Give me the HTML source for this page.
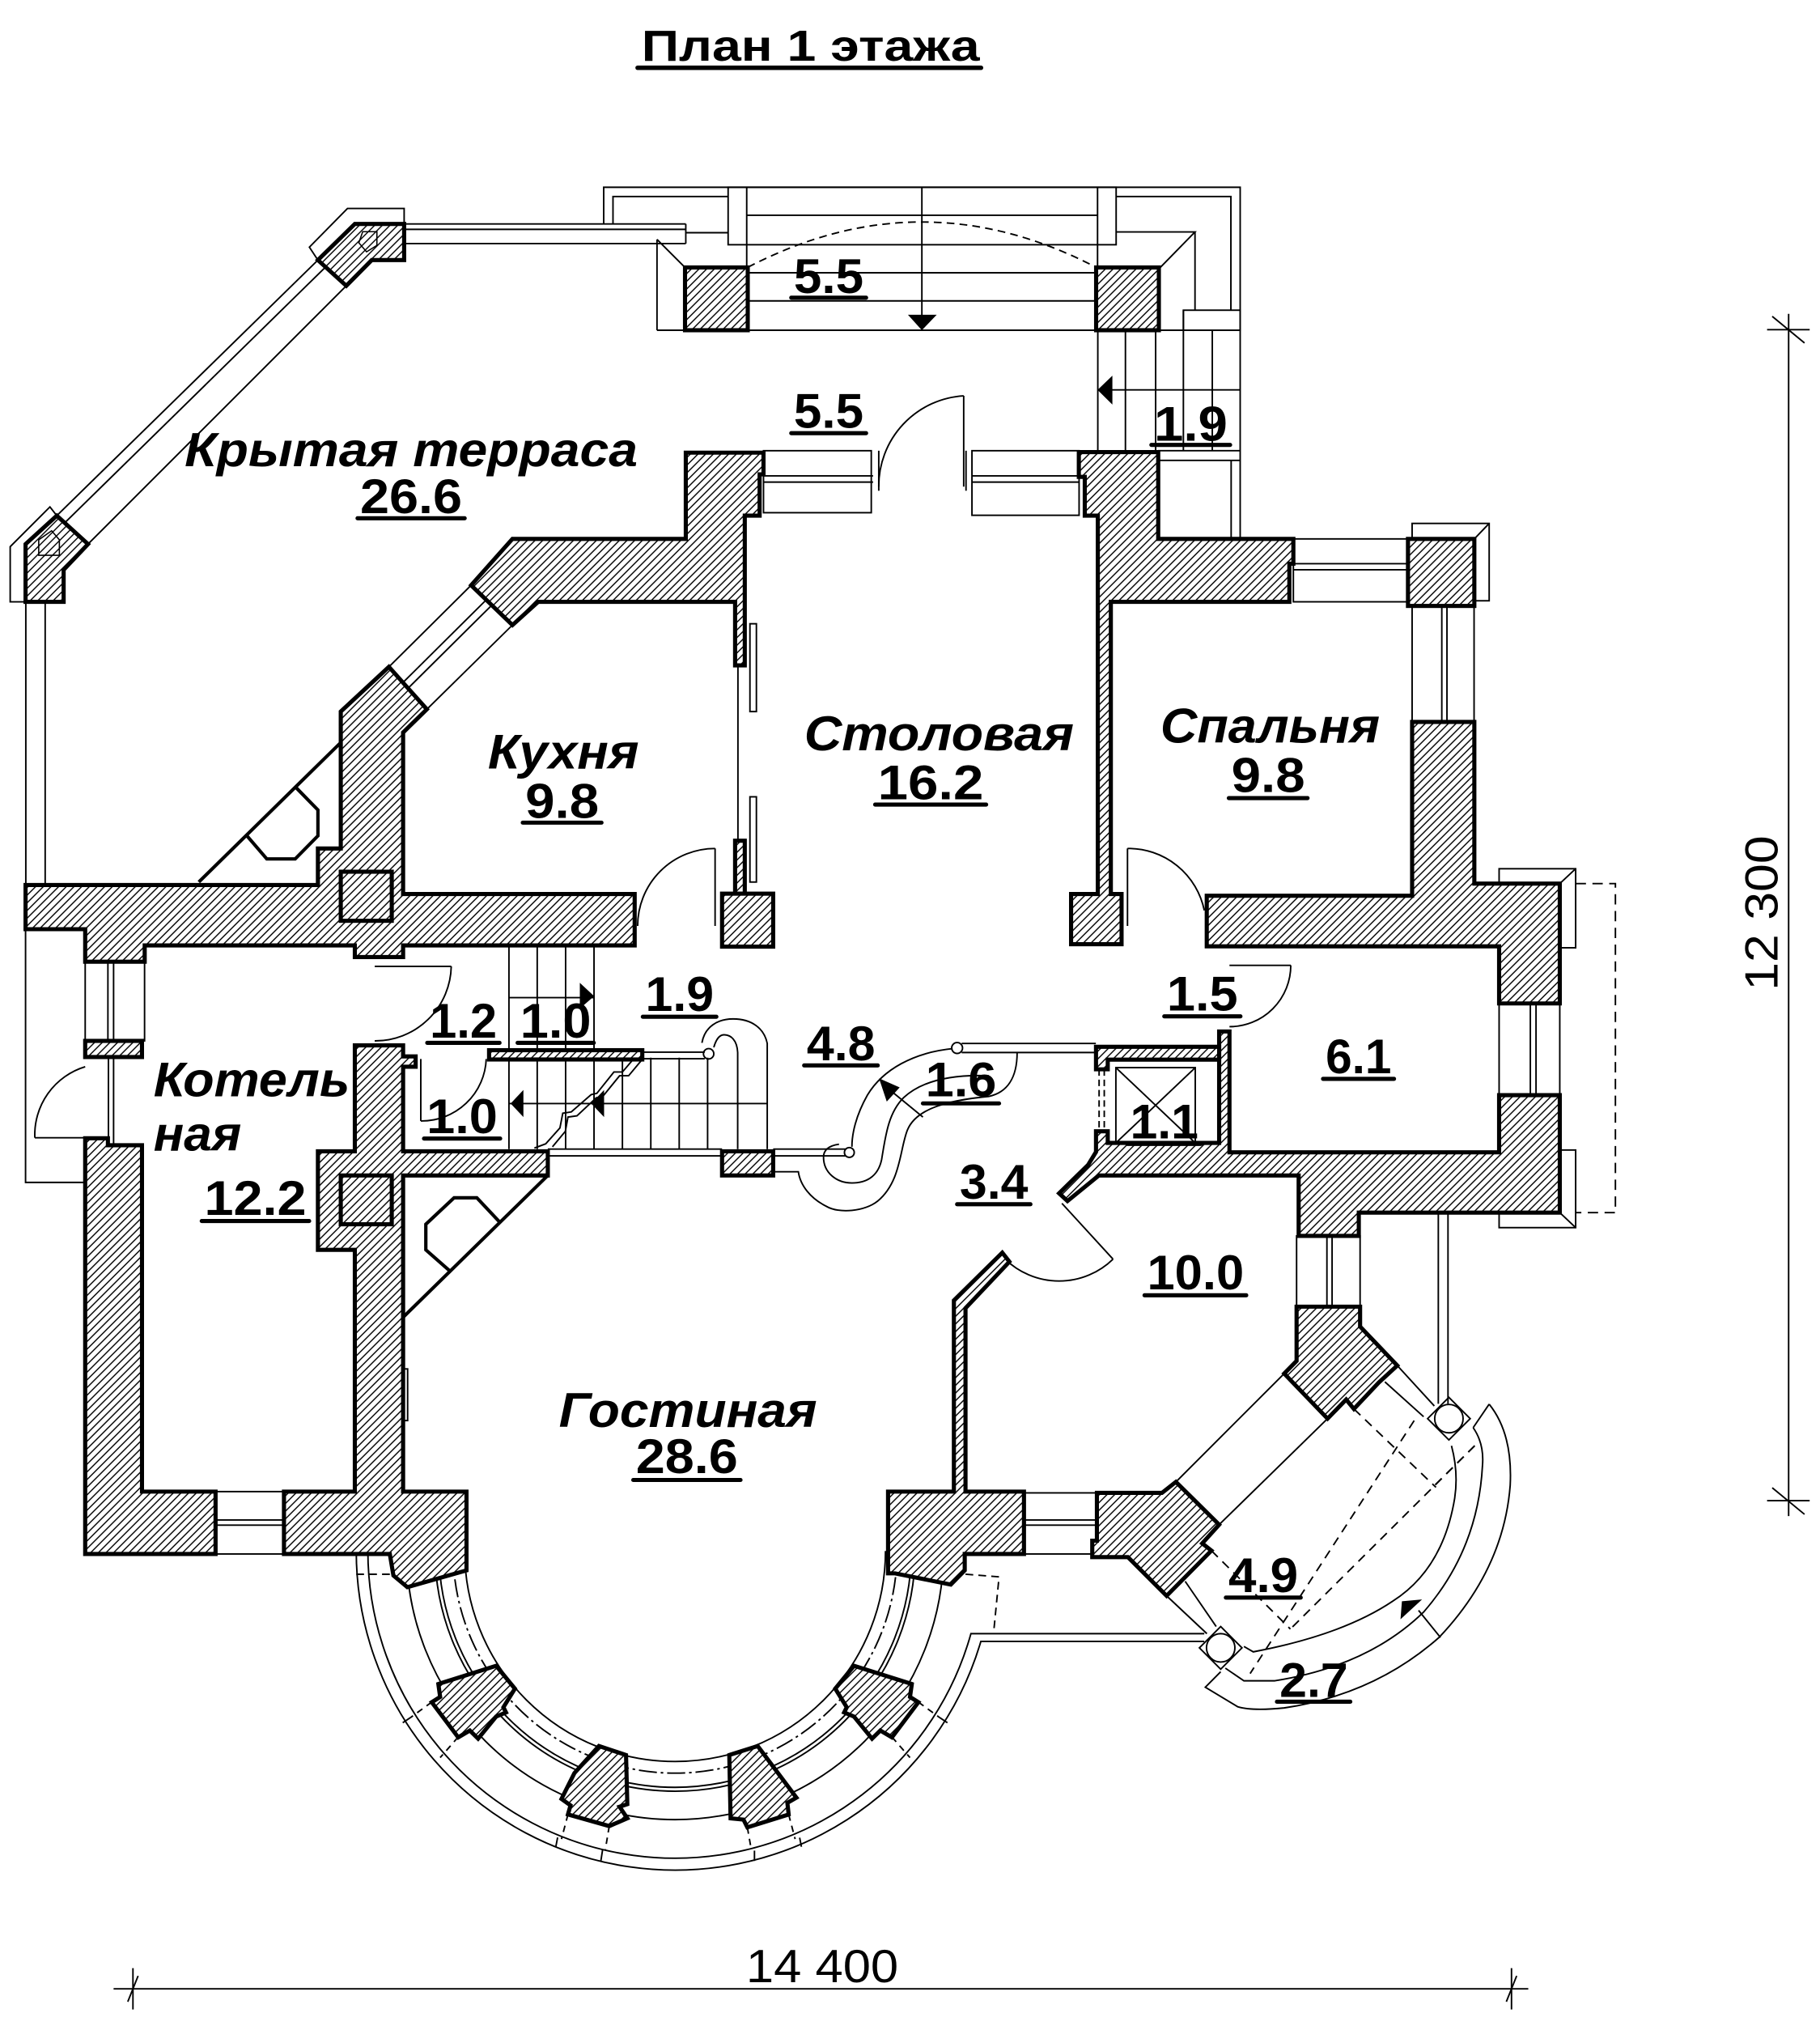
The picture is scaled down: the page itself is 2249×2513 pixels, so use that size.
<!DOCTYPE html>
<html><head><meta charset="utf-8"><style>
html,body{margin:0;padding:0;background:#fff;}
svg{display:block;}
text{font-family:"Liberation Sans","DejaVu Sans",sans-serif;font-weight:bold;fill:#000;}
.n{font-style:italic;}
</style></head><body>
<svg width="2249" height="2513" viewBox="0 0 1410 1575" preserveAspectRatio="none" xmlns="http://www.w3.org/2000/svg">
<defs>
<pattern id="h" width="4.2" height="4.2" patternUnits="userSpaceOnUse" patternTransform="rotate(45)">
<rect width="4.2" height="4.2" fill="#fff"/>
<line x1="1" y1="0" x2="1" y2="4.2" stroke="#000" stroke-width="0.9"/>
</pattern>
</defs>
<rect width="1410" height="1575" fill="#fff"/>

<!-- THIN LINES -->
<g fill="none" stroke="#000" stroke-width="1.2">
<!-- porch -->
<polyline points="467.7,173 467.7,145 960.8,145 960.8,417.3"/>
<polyline points="474.9,173 474.9,152.2 564.1,152.2"/>
<polyline points="864.7,152.2 953.6,152.2 953.6,240.2"/>
<rect x="564.1" y="145" width="300.6" height="44.5"/>
<line x1="578.5" y1="145" x2="578.5" y2="207"/>
<line x1="850.3" y1="145" x2="850.3" y2="207"/>
<line x1="578.5" y1="166.7" x2="850.3" y2="166.7"/>
<line x1="531.7" y1="180.2" x2="564.1" y2="180.2"/>
<line x1="509" y1="185.4" x2="530.7" y2="207.1"/>
<line x1="509" y1="185.4" x2="509" y2="255.7"/>
<line x1="509" y1="255.7" x2="960.8" y2="255.7"/>
<polyline points="864.7,179.6 925.8,179.6 898.9,207.1"/>
<line x1="925.8" y1="179.6" x2="925.8" y2="240.2"/>
<line x1="579.3" y1="211.2" x2="849.2" y2="211.2"/>
<line x1="579.3" y1="233" x2="849.2" y2="233"/>
<line x1="714.2" y1="145" x2="714.2" y2="245"/>
<path d="M579.3,207 Q714.2,136.8 849.2,207" stroke-dasharray="6,4"/>
<!-- right stair -->
<rect x="916.8" y="240.2" width="44" height="15.5"/>
<line x1="850.5" y1="255.7" x2="850.5" y2="350"/>
<line x1="871.9" y1="255.7" x2="871.9" y2="349"/>
<line x1="895.3" y1="255.7" x2="895.3" y2="349"/>
<line x1="916.8" y1="240.2" x2="916.8" y2="349"/>
<line x1="939.2" y1="255.7" x2="939.2" y2="349"/>
<line x1="850.5" y1="301.9" x2="960.8" y2="301.9"/>
<line x1="897" y1="349" x2="960.8" y2="349"/>
<line x1="897" y1="356.5" x2="960.8" y2="356.5"/>
<line x1="953.8" y1="356.5" x2="953.8" y2="417.3"/>
<!-- terrace railing -->
<line x1="313.1" y1="173.4" x2="531.3" y2="173.4"/>
<line x1="313.1" y1="177.6" x2="531.3" y2="177.6"/>
<line x1="313.1" y1="188.6" x2="531.3" y2="188.6"/>
<line x1="531.3" y1="173.4" x2="531.3" y2="188.6"/>
<polyline points="246.3,201.4 239.7,191.4 269.2,161.4 313.1,161.4 313.1,173.4"/>
<line x1="246.3" y1="201.4" x2="44" y2="399.3"/>
<line x1="252" y1="207" x2="50" y2="405"/>
<line x1="268.3" y1="221.3" x2="68.2" y2="421.3"/>
<polyline points="19.8,466 7.9,466 7.9,423.3 38.7,392.5 44,399.3"/>
<line x1="20" y1="466" x2="20" y2="685"/>
<line x1="35" y1="466" x2="35" y2="685"/>
<!-- kitchen diagonal window -->
<line x1="365" y1="453.2" x2="301.3" y2="516.4"/>
<line x1="397" y1="484" x2="330.7" y2="549.2"/>
<line x1="376" y1="465.2" x2="312.3" y2="528.4"/>
<line x1="380.4" y1="469.2" x2="316.7" y2="532.4"/>
<!-- kitchen/dining partition -->
<line x1="571.7" y1="515" x2="571.7" y2="651"/>
<rect x="581" y="483" width="5" height="68" fill="#fff"/>
<rect x="581" y="617" width="5" height="66" fill="#fff"/>
<!-- dining windows -->
<rect x="591.5" y="349" width="83.5" height="48"/>
<line x1="591.5" y1="368.5" x2="676.4" y2="368.5"/>
<line x1="591.5" y1="373.3" x2="676.4" y2="373.3"/>
<line x1="680.8" y1="349" x2="680.8" y2="380"/>
<rect x="753" y="349" width="83" height="50"/>
<line x1="748.4" y1="349" x2="748.4" y2="380"/>
<line x1="752.7" y1="368.5" x2="836" y2="368.5"/>
<line x1="752.7" y1="373.3" x2="836" y2="373.3"/>
<!-- doors -->
<line x1="746.6" y1="306.5" x2="746.6" y2="376.8"/>
<path d="M746.6,306.5 A70,70 0 0 0 680.8,376.8"/>
<line x1="554" y1="657" x2="554" y2="717"/>
<path d="M554,657 A60,60 0 0 0 494,717"/>
<line x1="873.5" y1="657" x2="873.5" y2="717"/>
<path d="M873.5,657 A60,60 0 0 1 933,705"/>
<line x1="952.5" y1="747.5" x2="1000" y2="747.5"/>
<path d="M1000,747.5 A47.5,47.5 0 0 1 952.5,795"/>
<line x1="290.3" y1="748.3" x2="349.6" y2="748.3"/>
<path d="M349.6,748.3 A59,59 0 0 1 290.3,806"/>
<line x1="326" y1="820" x2="326" y2="868"/>
<path d="M376.7,820 A50,50 0 0 1 326,868"/>
<line x1="822.7" y1="931.8" x2="862.3" y2="975"/>
<path d="M862.3,975 A60,60 0 0 1 778.7,975"/>
<path d="M66,826 A55,55 0 0 0 27,881"/>
<line x1="27" y1="881" x2="66" y2="881"/>
<!-- bedroom windows -->
<rect x="1002" y="417.3" width="88.8" height="48.7"/>
<line x1="1002" y1="436.5" x2="1090.8" y2="436.5"/>
<line x1="1002" y1="441.2" x2="1090.8" y2="441.2"/>
<rect x="1094" y="405.3" width="59.7" height="59.9"/>
<line x1="1142.2" y1="417.3" x2="1153.7" y2="405.3"/>
<rect x="1094" y="466" width="48" height="93"/>
<line x1="1117" y1="466" x2="1117" y2="559"/>
<line x1="1121" y1="466" x2="1121" y2="559"/>
<!-- 6.1 right -->
<rect x="1161.4" y="777" width="47" height="71"/>
<line x1="1185.6" y1="777" x2="1185.6" y2="848"/>
<line x1="1190" y1="777" x2="1190" y2="848"/>
<rect x="1161.4" y="672.7" width="59.3" height="61.2"/>
<line x1="1208.4" y1="684.2" x2="1220.7" y2="672.7"/>
<rect x="1161.4" y="890.5" width="59.3" height="60.1"/>
<line x1="1208.4" y1="939" x2="1220.7" y2="950.6"/>
<polyline points="1220.7,684.2 1251.5,684.2 1251.5,939 1220.7,939" stroke-dasharray="8,5"/>
<!-- lower right window and posts -->
<rect x="1004.5" y="957" width="49.2" height="54.8"/>
<line x1="1028" y1="957" x2="1028" y2="1011.8"/>
<line x1="1032" y1="957" x2="1032" y2="1011.8"/>
<line x1="1114.3" y1="940" x2="1114.3" y2="1087"/>
<line x1="1121.8" y1="940" x2="1121.8" y2="1087"/>
<!-- lift -->
<line x1="851.5" y1="828" x2="851.5" y2="876" stroke-dasharray="5,3"/>
<line x1="855.5" y1="828" x2="855.5" y2="876" stroke-dasharray="5,3"/>
<rect x="864.5" y="826.7" width="61.5" height="58.3"/>
<line x1="864.5" y1="826.7" x2="926" y2="885"/>
<line x1="926" y1="826.7" x2="864.5" y2="885"/>
<!-- kotelnaya windows -->
<rect x="66" y="744.7" width="46" height="61.3"/>
<line x1="83.6" y1="744.7" x2="83.6" y2="806"/>
<line x1="88" y1="744.7" x2="88" y2="806"/>
<line x1="84" y1="818.5" x2="84" y2="886.8"/>
<line x1="88" y1="818.5" x2="88" y2="886.8"/>
<polyline points="19.8,719.5 19.8,915.6 66,915.6"/>
<rect x="167" y="1155" width="53" height="48.3"/>
<line x1="167" y1="1177" x2="220" y2="1177"/>
<line x1="167" y1="1181" x2="220" y2="1181"/>
<rect x="793.3" y="1156" width="56.5" height="47.3"/>
<line x1="793.3" y1="1177" x2="849.8" y2="1177"/>
<line x1="793.3" y1="1181" x2="849.8" y2="1181"/>
<rect x="312.3" y="1060" width="3.5" height="40"/>
<!-- stairs -->
<line x1="394.3" y1="733" x2="394.3" y2="889.8"/>
<line x1="416.2" y1="733" x2="416.2" y2="889.8"/>
<line x1="438.2" y1="733" x2="438.2" y2="889.8"/>
<line x1="460.2" y1="733" x2="460.2" y2="889.8"/>
<line x1="482.2" y1="819" x2="482.2" y2="889.8"/>
<line x1="504.2" y1="819" x2="504.2" y2="889.8"/>
<line x1="526.2" y1="819" x2="526.2" y2="889.8"/>
<line x1="548.2" y1="819" x2="548.2" y2="889.8"/>
<line x1="394.3" y1="772.5" x2="460.2" y2="772.5"/>
<line x1="394.3" y1="854.5" x2="594.4" y2="854.5"/>
<polyline points="491,819.8 482.2,830.1 475.6,830.1 462.4,846.6 458,847.6 442.6,861 436,862 433.8,873.4 422.8,885.7 414,889"/>
<polyline points="497,821 487,833 480,833 467,849 462,850 447,864 440,865 438,876 428,888"/>
<line x1="424.4" y1="889.8" x2="559.4" y2="889.8"/>
<line x1="424.4" y1="895" x2="559.4" y2="895"/>
<line x1="497.6" y1="814.7" x2="546" y2="814.7"/>
<line x1="497.6" y1="819.8" x2="546" y2="819.8"/>
<circle cx="549" cy="816" r="4"/>
<path d="M543.8,807.5 C546,795 556,789 568,789 C582,789 592,796 594.4,808 L594.4,889.8"/>
<path d="M553,811 C555,804 558,801 561.4,801.3 C566,801.5 571,805 571.5,815 L571.5,889.8"/>
<!-- spiral -->
<line x1="599" y1="889.8" x2="655" y2="889.8"/>
<line x1="599" y1="895" x2="655" y2="895"/>
<circle cx="658" cy="892.4" r="3.8"/>
<line x1="745" y1="808" x2="849" y2="808"/>
<line x1="745" y1="815" x2="849" y2="815"/>
<circle cx="741.5" cy="811.5" r="4.2"/>
<path d="M738,812 C708,815 684,828 672,848 C663,864 660,878 660,888"/>
<path d="M766,833 C740,832 715,836 700,850 C688,862 686,880 683,898 C680,912 670,916 660,916 C648,916 638,908 638,896 C638,890 643,887 650,886"/>
<path d="M788,815 C788,835 780,846 766,849 C735,852 710,858 703,875 C697,890 698,915 680,930 C670,938 650,940 640,934 C628,928 620,918 618.5,907.3 L598.8,907.3"/>
<line x1="715" y1="865" x2="687" y2="842"/>
<!-- bay arcs -->
<path d="M360,1201 A163,163 0 0 0 686,1201"/>
<path d="M351,1201 A172,172 0 0 0 695,1201" stroke-dasharray="14,3,2,3"/>
<path d="M340,1201 A183,183 0 0 0 706,1201"/>
<path d="M337,1201 A186,186 0 0 0 709,1201"/>
<path d="M315,1201 A208,208 0 0 0 731,1201"/>
<path d="M285,1201 A238,238 0 0 0 752.2,1265 L933,1265"/>
<path d="M276,1201 A247,247 0 0 0 759.9,1271 L933,1271"/>
<polyline points="748,1219 774,1221 770,1262" stroke-dasharray="6,4"/>
<line x1="276" y1="1219" x2="302" y2="1219" stroke-dasharray="6,4"/>
<g stroke-dasharray="5,4">
<line x1="334.5" y1="1318" x2="318" y2="1330"/>
<line x1="355" y1="1345" x2="341" y2="1361"/>
<line x1="440" y1="1405" x2="435" y2="1424"/>
<line x1="472" y1="1414" x2="469" y2="1432"/>
<line x1="579" y1="1415" x2="582" y2="1432"/>
<line x1="611" y1="1405" x2="616" y2="1424"/>
<line x1="691" y1="1345" x2="705" y2="1361"/>
<line x1="711.5" y1="1318" x2="728" y2="1330"/>
</g>
<line x1="432" y1="1422.8" x2="430.6" y2="1430"/>
<line x1="466.9" y1="1432" x2="465.5" y2="1441"/>
<line x1="584.5" y1="1433" x2="584.5" y2="1441"/>
<line x1="619.5" y1="1423" x2="620.9" y2="1430"/>
<line x1="318" y1="1330" x2="312" y2="1334"/>
<line x1="728" y1="1330" x2="734" y2="1334"/>
<!-- balcony -->
<line x1="911" y1="1147.5" x2="994.9" y2="1063.6"/>
<line x1="944.5" y1="1180.6" x2="1028.5" y2="1098.5"/>
<line x1="1082.5" y1="1057.4" x2="1111.2" y2="1088.7"/>
<line x1="1072.9" y1="1070" x2="1102.9" y2="1097"/>
<line x1="903.8" y1="1235.7" x2="935" y2="1265"/>
<line x1="918.2" y1="1224.5" x2="942.2" y2="1259.5"/>
<polygon points="1122.5,1082 1139,1098.5 1122.5,1115 1106,1098.5"/>
<circle cx="1122.5" cy="1098.5" r="11"/>
<polygon points="945.7,1259.5 962.2,1276 945.7,1292.5 929.2,1276"/>
<circle cx="945.7" cy="1276" r="11"/>
<path d="M1124.5,1119.5 Q1130,1140 1127,1160 Q1118,1215 1078.9,1239.9 Q1040,1266 970.9,1279.1 L963.7,1274.9"/>
<path d="M1141.3,1105.5 Q1150,1118 1148.5,1135 Q1145,1200 1102.9,1248.3 Q1060,1290 987.7,1301.5 L963.7,1301.5 L949.3,1291.7"/>
<path d="M1153.7,1087.3 Q1172,1110 1170,1150 Q1165,1215 1114.9,1267.9 Q1065,1312 994.9,1322.5 Q970,1325 958.9,1321.6 L933.8,1306.5 L945.7,1294.5"/>
<line x1="1153.7" y1="1087.3" x2="1141.3" y2="1105.5"/>
<line x1="1116" y1="1268" x2="1099" y2="1247"/>
<g stroke-dasharray="7,5">
<line x1="1048.9" y1="1091" x2="1112.5" y2="1151.7"/>
<line x1="1095.6" y1="1100" x2="968.5" y2="1295.9"/>
<line x1="1142.5" y1="1119.5" x2="999.7" y2="1261.4"/>
<line x1="938.5" y1="1200.7" x2="999.7" y2="1261.4"/>
<line x1="1142.5" y1="1119.5" x2="1111.3" y2="1150.3"/>
</g>
<!-- dimensions -->
<line x1="1385.7" y1="243" x2="1385.7" y2="1174"/>
<line x1="1369" y1="255.3" x2="1402" y2="255.3"/>
<line x1="1373" y1="245" x2="1398" y2="265.6"/>
<line x1="1369" y1="1162" x2="1402" y2="1162"/>
<line x1="1373" y1="1152" x2="1398" y2="1172.6"/>
<line x1="88" y1="1540" x2="1184" y2="1540"/>
<line x1="103" y1="1524" x2="103" y2="1556"/>
<line x1="99" y1="1550" x2="107" y2="1530"/>
<line x1="1171" y1="1524" x2="1171" y2="1556"/>
<line x1="1167" y1="1550" x2="1175" y2="1530"/>
</g>

<!-- thick fixture lines -->
<g fill="none" stroke="#000" stroke-width="2.6" stroke-linejoin="miter">
<line x1="154" y1="683" x2="264" y2="575"/>
<polyline points="228.7,609.2 246.3,627.2 246.3,647.2 228.7,665.1 206.7,665.1 191.3,647.2"/>
<line x1="424.4" y1="910.2" x2="312.3" y2="1020"/>
<polyline points="387,946.2 369.4,927.5 351.8,927.5 329.9,948 329.9,967.8 349.6,985.1"/>
</g>

<!-- arrows -->
<g fill="#000" stroke="none">
<polygon points="703.4,243.7 725.7,243.7 714.2,255.7"/>
<polygon points="850.3,301.9 861.8,290.9 861.8,313.3"/>
<polygon points="449.2,761 460.3,771.4 449.2,781"/>
<polygon points="395.6,854.5 405.5,844 405.5,865"/>
<polygon points="458,854.5 468,844 468,865"/>
<polygon points="681,835 697,842 687,853"/>
<polygon points="1085,1253.9 1086.1,1239.9 1101.7,1238.5"/>
</g>

<!-- WALLS -->
<g fill="url(#h)" stroke="#000" stroke-width="3.2" stroke-linejoin="miter" stroke-miterlimit="4">
<polygon points="531.3,350.5 591.5,350.5 591.5,367.3 588.5,367.3 588.5,399.3 577,399.3 577,515.2 569.5,515.2 569.5,466 417,466 397,484 365,453.2 397,417.3 531.3,417.3"/>
<polygon points="301.3,516.4 330.7,549.2 312.3,567.2 312.3,692.3 491.7,692.3 491.7,732.1 312.3,732.1 312.3,741.1 274.9,741.1 274.9,732.1 112.1,732.1 112.1,744.7 66,744.7 66,719.5 19.8,719.5 19.8,685.3 246.3,685.3 246.3,657 264,657 264,551"/>
<rect x="264" y="675" width="39.5" height="38"/>
<rect x="569.5" y="651" width="7.5" height="41"/>
<rect x="559.4" y="692" width="39.6" height="41"/>
<polygon points="835.8,350.1 897.3,350.1 897.3,417.3 1002,417.3 1002,436.5 998.9,436.5 998.9,466 860.6,466 860.6,692.3 868.9,692.3 868.9,731.1 829.8,731.1 829.8,692.3 850.5,692.3 850.5,399.3 840.4,399.3 840.4,369.3 835.8,369.3"/>
<rect x="1090.8" y="417.3" width="51.4" height="51.9"/>
<polygon points="1094,559 1142.2,559 1142.2,684.2 1208.4,684.2 1208.4,777 1161.4,777 1161.4,732.8 934.9,732.8 934.9,693.6 1094,693.6"/>
<polygon points="944.5,798.7 952.5,798.7 952.5,892.3 1161.4,892.3 1161.4,848 1208.4,848 1208.4,939 1052.7,939 1052.7,957 1006.1,957 1006.1,910.2 851.3,910.2 827,930 820.5,924 843,902 849.1,892 849.1,876 858.2,876 858.2,885 944.5,885"/>
<polygon points="849.1,810.6 944.5,810.6 944.5,820.5 858.2,820.5 858.2,828 849.1,828"/>
<polygon points="1004.5,1011.8 1053.7,1011.8 1053.7,1027.2 1082.5,1057.4 1068.1,1070.6 1048.9,1091 1042.9,1083.7 1028.5,1098.5 994.9,1063.6 1004.5,1053.8"/>
<polygon points="66,881.4 83.6,881.4 83.6,886.8 110,886.8 110,1155 167,1155 167,1203.3 66,1203.3"/>
<rect x="66" y="806" width="44" height="12.5"/>
<polygon points="274.9,809.5 312.3,809.5 312.3,818 322,818 322,826 312.3,826 312.3,891.5 424.4,891.5 424.4,910.2 312.3,910.2 312.3,1155 361.4,1155 361.4,1216 315.6,1229 304.8,1220 302,1203.3 220,1203.3 220,1155 274.9,1155 274.9,967.8 246.3,967.8 246.3,891.5 274.9,891.5"/>
<rect x="264" y="910.2" width="39.5" height="37.8"/>
<polygon points="688,1155 739,1155 739,1007 776.5,970 782,977 748,1013 748,1155 793.3,1155 793.3,1203.3 747.4,1203.3 747.4,1216 736.6,1227 693.4,1218.3 688,1218.3"/>
<polygon points="849.8,1156 900.2,1156 911,1147.5 944.5,1180.6 931.4,1195.1 938.5,1200.7 903.8,1235.7 873.8,1205.7 846.2,1205.7 846.2,1193 849.8,1193"/>
<rect x="378.9" y="813.2" width="118.7" height="7.2"/>
<rect x="559.4" y="891.5" width="39.6" height="18.7"/>
<rect x="530.7" y="207.1" width="48.6" height="48.6"/>
<rect x="849.2" y="207.1" width="48.6" height="48.6"/>
<polygon points="274.9,173.4 313.1,173.4 313.1,201.4 288,201.4 268.3,221.3 246.3,201.4"/>
<polygon points="19.8,421.3 44,399.3 68.2,421.3 49.3,441.2 49.3,466 19.8,466"/>
<!-- bay columns -->
<polygon points="339.6,1304 384.4,1289.9 398.9,1307.6 390,1322 392,1326 384.4,1329.2 370.4,1346.3 364,1340 355,1345.3 334.5,1318.1 341,1314"/>
<polygon points="706.4,1304 661.6,1289.9 647.1,1307.6 656,1322 654,1326 661.6,1329.2 675.6,1346.3 682,1340 691,1345.3 711.5,1318.1 705,1314"/>
<polygon points="464,1352 485,1359 486,1397 480,1399 486,1408 472,1414 440,1405 442,1398 435,1393 445,1373"/>
<polygon points="565,1359 587,1352 617,1392 610,1396 611,1405 579,1415 576,1409 566,1408"/>
</g>
<g fill="none" stroke="#000" stroke-width="1">
<polygon points="281,179.4 292,179.4 292,190 284,195 278,188"/>
<polygon points="30,418 40,411 46,418 46,430 30,430"/>
</g>

<!-- TEXT -->
<text x="497" y="47" font-size="34" textLength="262" lengthAdjust="spacingAndGlyphs">План 1 этажа</text>
<line x1="494" y1="52.5" x2="760" y2="52.5" stroke="#000" stroke-width="3.5" stroke-linecap="round"/>

<text class="n" x="143" y="361" font-size="37" textLength="351" lengthAdjust="spacingAndGlyphs">Крытая терраса</text>
<text class="n" x="378" y="595" font-size="38" textLength="117" lengthAdjust="spacingAndGlyphs">Кухня</text>
<text class="n" x="623" y="581" font-size="38" textLength="209" lengthAdjust="spacingAndGlyphs">Столовая</text>
<text class="n" x="899" y="575" font-size="38" textLength="170" lengthAdjust="spacingAndGlyphs">Спальня</text>
<text class="n" x="119" y="849" font-size="38" textLength="152" lengthAdjust="spacingAndGlyphs">Котель</text>
<text class="n" x="119" y="891" font-size="38" textLength="68" lengthAdjust="spacingAndGlyphs">ная</text>
<text class="n" x="433" y="1105" font-size="38" textLength="200" lengthAdjust="spacingAndGlyphs">Гостиная</text>

<g font-size="38">
<text x="615" y="226.8" textLength="54" lengthAdjust="spacingAndGlyphs">5.5</text>
<text x="615" y="331.3" textLength="54" lengthAdjust="spacingAndGlyphs">5.5</text>
<text x="894" y="341.3" textLength="57" lengthAdjust="spacingAndGlyphs">1.9</text>
<text x="279" y="397.3" textLength="79" lengthAdjust="spacingAndGlyphs">26.6</text>
<text x="407" y="633.2" textLength="57" lengthAdjust="spacingAndGlyphs">9.8</text>
<text x="680" y="619" textLength="82" lengthAdjust="spacingAndGlyphs">16.2</text>
<text x="954" y="613.2" textLength="57" lengthAdjust="spacingAndGlyphs">9.8</text>
<text x="904" y="782.5" textLength="55" lengthAdjust="spacingAndGlyphs">1.5</text>
<text x="1027" y="831" textLength="51" lengthAdjust="spacingAndGlyphs">6.1</text>
<text x="333" y="803.4" textLength="52" lengthAdjust="spacingAndGlyphs">1.2</text>
<text x="403" y="803.4" textLength="55" lengthAdjust="spacingAndGlyphs">1.0</text>
<text x="500" y="782.8" textLength="53" lengthAdjust="spacingAndGlyphs">1.9</text>
<text x="625" y="820.9" textLength="53" lengthAdjust="spacingAndGlyphs">4.8</text>
<text x="717" y="849" textLength="55" lengthAdjust="spacingAndGlyphs">1.6</text>
<text x="875.5" y="881.4" textLength="53" lengthAdjust="spacingAndGlyphs">1.1</text>
<text x="330.5" y="877.5" textLength="55" lengthAdjust="spacingAndGlyphs">1.0</text>
<text x="743.5" y="928.2" textLength="53" lengthAdjust="spacingAndGlyphs">3.4</text>
<text x="158.3" y="940.8" textLength="79" lengthAdjust="spacingAndGlyphs">12.2</text>
<text x="888.7" y="998.4" textLength="75" lengthAdjust="spacingAndGlyphs">10.0</text>
<text x="492.6" y="1140.6" textLength="79" lengthAdjust="spacingAndGlyphs">28.6</text>
<text x="951.7" y="1232.9" textLength="54" lengthAdjust="spacingAndGlyphs">4.9</text>
<text x="991.3" y="1314.1" textLength="53" lengthAdjust="spacingAndGlyphs">2.7</text>
</g>
<g stroke="#000" stroke-width="3.2" stroke-linecap="round">
<line x1="613" y1="230.5" x2="671" y2="230.5"/>
<line x1="613" y1="335.4" x2="671" y2="335.4"/>
<line x1="892" y1="344.5" x2="953" y2="344.5"/>
<line x1="277" y1="401.3" x2="360" y2="401.3"/>
<line x1="405" y1="637" x2="466" y2="637"/>
<line x1="678" y1="623" x2="764" y2="623"/>
<line x1="952" y1="618" x2="1013" y2="618"/>
<line x1="902" y1="787" x2="961" y2="787"/>
<line x1="1025" y1="835.4" x2="1080" y2="835.4"/>
<line x1="331" y1="807.5" x2="387" y2="807.5"/>
<line x1="401" y1="807.5" x2="460" y2="807.5"/>
<line x1="498" y1="787.3" x2="555" y2="787.3"/>
<line x1="623" y1="825" x2="680" y2="825"/>
<line x1="715" y1="854.4" x2="774" y2="854.4"/>
<line x1="873.5" y1="885.8" x2="930.3" y2="885.8"/>
<line x1="328.5" y1="881.6" x2="387.5" y2="881.6"/>
<line x1="741.5" y1="932.5" x2="798.3" y2="932.5"/>
<line x1="156.3" y1="945.5" x2="239.5" y2="945.5"/>
<line x1="886.7" y1="1003" x2="965.5" y2="1003"/>
<line x1="490.6" y1="1146" x2="573.7" y2="1146"/>
<line x1="949.7" y1="1237.1" x2="1007.7" y2="1237.1"/>
<line x1="989.3" y1="1317.7" x2="1046.1" y2="1317.7"/>
</g>

<text x="578" y="1535" font-size="36" style="font-weight:normal" textLength="118" lengthAdjust="spacingAndGlyphs">14 400</text>
<text transform="translate(1377,707) rotate(-90)" text-anchor="middle" font-size="36" style="font-weight:normal" textLength="120" lengthAdjust="spacingAndGlyphs">12 300</text>
</svg>
</body></html>
